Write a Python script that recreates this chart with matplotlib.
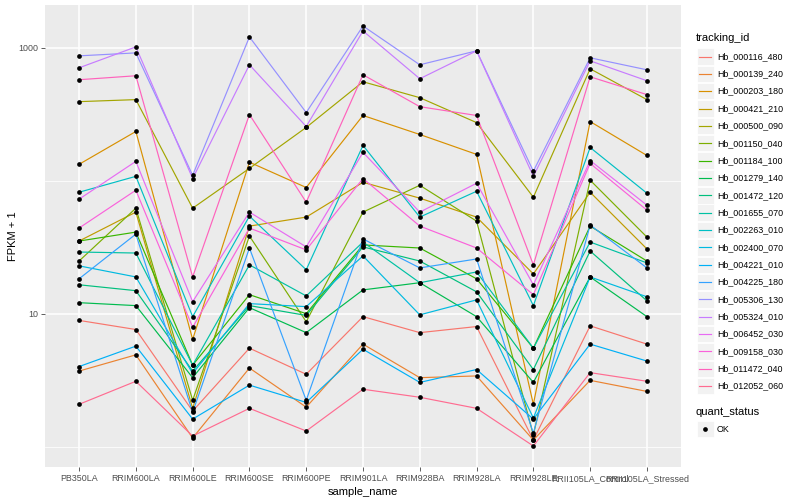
import numpy as np
import matplotlib
matplotlib.use("Agg")
import matplotlib.pyplot as plt
from matplotlib.patches import Rectangle
from matplotlib.ticker import NullFormatter

plt.rcParams['font.family'] = ['Liberation Sans', 'DejaVu Sans']

samples = ["PB350LA", "RRIM600LA", "RRIM600LE", "RRIM600SE", "RRIM600PE",
           "RRIM901LA", "RRIM928BA", "RRIM928LA", "RRIM928LE",
           "RRII105LA_Control", "RRII105LA_Stressed"]

tracking_ids = ["Hb_000116_480", "Hb_000139_240", "Hb_000203_180", "Hb_000421_210",
                "Hb_000500_090", "Hb_001150_040", "Hb_001184_100", "Hb_001279_140",
                "Hb_001472_120", "Hb_001655_070", "Hb_002263_010", "Hb_002400_070",
                "Hb_004221_010", "Hb_004225_180", "Hb_005306_130", "Hb_005324_010",
                "Hb_006452_030", "Hb_009158_030", "Hb_011472_040", "Hb_012052_060"]

# FPKM + 1 per sample (order as in `samples`)
Hb_000116_480 = [8.9, 7.6, 1.85, 5.5, 3.5, 9.5, 7.2, 8.0, 1.12, 8.1, 5.9]
Hb_000139_240 = [3.7, 4.9, 1.16, 3.9, 1.98, 5.9, 3.3, 3.4, 1.12, 3.15, 2.6]
Hb_000203_180 = [133, 235, 6.4, 138, 89, 310, 223, 158, 2.08, 279, 155]
Hb_000421_210 = [35.2, 58.1, 1.94, 45.6, 53.3, 97.4, 74.0, 53.3, 19.9, 82.0, 30.7]
Hb_000500_090 = [394, 408, 62.2, 124, 252, 556, 422, 274, 75.2, 696, 408]
Hb_001150_040 = [24.9, 62.2, 2.23, 38.4, 8.7, 58.1, 92.5, 49.7, 1.22, 101, 37.7]
Hb_001184_100 = [35.2, 41.1, 4.1, 13.9, 10.0, 32.9, 31.2, 18.3, 5.5, 45.6, 24.9]
Hb_001279_140 = [12.1, 11.5, 3.3, 11.1, 7.2, 15.1, 17.1, 9.5, 3.04, 18.9, 9.5]
Hb_001472_120 = [16.5, 14.9, 3.7, 11.5, 9.7, 31.8, 24.9, 14.6, 3.8, 29.6, 12.5]
Hb_001655_070 = [29.1, 28.6, 4.1, 23.3, 13.6, 34.6, 17.1, 20.6, 5.5, 34.6, 24.1]
Hb_002263_010 = [82.0, 108, 9.5, 54.2, 21.4, 184.5, 53.3, 83.4, 11.5, 178, 80.6]
Hb_002400_070 = [22.9, 18.9, 3.55, 11.9, 11.3, 27.2, 9.8, 12.7, 1.64, 18.9, 13.4]
Hb_004221_010 = [4.0, 5.7, 1.61, 2.9, 2.15, 5.4, 3.04, 3.8, 1.61, 5.9, 4.4]
Hb_004225_180 = [18.3, 39.7, 1.81, 31.2, 2.23, 36.5, 22.1, 25.8, 1.26, 46.4, 22.1]
Hb_005306_130 = [871, 917, 110, 1209, 326, 1461, 746, 950, 118, 842, 684]
Hb_005324_010 = [708, 1017, 104, 746, 256, 1341, 586, 950, 108, 799, 566]
Hb_006452_030 = [72.7, 140, 12.3, 58.1, 31.8, 163.5, 58.1, 95.8, 16.5, 142, 65.5]
Hb_009158_030 = [44.1, 84.9, 7.9, 44.1, 30.2, 104, 45.6, 31.2, 13.9, 135, 60.1]
Hb_011472_040 = [576, 617, 18.9, 315, 69.0, 628, 361, 310, 23.3, 606, 445]
Hb_012052_060 = [2.08, 3.1, 1.20, 1.94, 1.31, 2.7, 2.35, 1.94, 1.01, 3.6, 3.1]

series_values = [Hb_000116_480, Hb_000139_240, Hb_000203_180, Hb_000421_210,
                 Hb_000500_090, Hb_001150_040, Hb_001184_100, Hb_001279_140,
                 Hb_001472_120, Hb_001655_070, Hb_002263_010, Hb_002400_070,
                 Hb_004221_010, Hb_004225_180, Hb_005306_130, Hb_005324_010,
                 Hb_006452_030, Hb_009158_030, Hb_011472_040, Hb_012052_060]

palette = ["#F8766D", "#EA8331", "#D89000", "#C09B00", "#A3A500", "#7CAE00",
           "#39B600", "#00BB4E", "#00BF7D", "#00C1A3", "#00BFC4", "#00BAE0",
           "#00B0F6", "#35A2FF", "#9590FF", "#C77CFF", "#E76BF3", "#FA62DB",
           "#FF62BC", "#FF6C91"]

quant_levels = ["OK"]

W, H = 800, 500
fig = plt.figure(figsize=(8, 5), dpi=100)
fig.patch.set_facecolor("white")

px0, px1, py0, py1 = 45, 681, 5, 467
ax = fig.add_axes([px0 / W, 1 - py1 / H, (px1 - px0) / W, (py1 - py0) / H])
ax.set_facecolor("#EBEBEB")
for s in ax.spines.values():
    s.set_visible(False)

x = np.arange(len(samples))
for vals, col in zip(series_values, palette):
    ax.plot(x, vals, color=col, lw=0.85, zorder=2, solid_capstyle="butt")
for vals in series_values:
    ax.plot(x, vals, linestyle="none", marker="o", ms=3.4, color="black",
            markeredgewidth=0, zorder=3)

ax.set_yscale("log")
allv = np.log10(np.concatenate([np.asarray(v, float) for v in series_values]))
lo, hi = allv.min(), allv.max()
pad = 0.05 * (hi - lo)
ax.set_ylim(10 ** (lo - pad), 10 ** (hi + pad))
ax.set_xlim(-0.6, len(samples) - 1 + 0.6)

ax.set_yticks([10, 1000])
ax.set_yticklabels(["10", "1000"])
ax.set_yticks([1, 100], minor=True)
ax.yaxis.set_minor_formatter(NullFormatter())
ax.set_xticks(x)
ax.set_xticklabels(samples)

ax.grid(which="major", color="white", lw=1.1, zorder=0)
ax.grid(which="minor", axis="y", color="white", lw=0.55, zorder=0)
ax.set_axisbelow(True)

ax.tick_params(which="major", labelsize=6.4, labelcolor="#4D4D4D", color="#333333",
               length=2.7, width=0.55, pad=2.2)
ax.tick_params(which="minor", length=0)

ax.set_xlabel("sample_name", fontsize=8, color="black", labelpad=3)
ax.set_ylabel("FPKM + 1", fontsize=8, color="black", labelpad=0)

# legend drawn in pixel space
lax = fig.add_axes([0, 0, 1, 1])
lax.set_xlim(0, W)
lax.set_ylim(H, 0)
lax.axis("off")

lax.text(696, 38, "tracking_id", fontsize=8, va="center", ha="left")
step = 17.35
y0 = 56.5
for i, (tid, col) in enumerate(zip(tracking_ids, palette)):
    yc = y0 + i * step
    lax.add_patch(Rectangle((697, yc - 8.2), 16.5, 16.4, facecolor="#F2F2F2",
                            edgecolor="white", lw=0.6))
    lax.plot([699, 711], [yc, yc], color=col, lw=0.85)
    lax.text(717, yc, tid, fontsize=6.4, va="center", ha="left")

lax.text(696, 412, "quant_status", fontsize=8, va="center", ha="left")
for j, q in enumerate(quant_levels):
    yc = 429 + j * step
    lax.add_patch(Rectangle((697, yc - 8.2), 16.5, 16.4, facecolor="#F2F2F2",
                            edgecolor="white", lw=0.6))
    lax.plot([705], [yc], marker="o", ms=3.4, color="black", markeredgewidth=0)
    lax.text(717, yc, q, fontsize=6.4, va="center", ha="left")

fig.savefig("out.png", dpi=100)
